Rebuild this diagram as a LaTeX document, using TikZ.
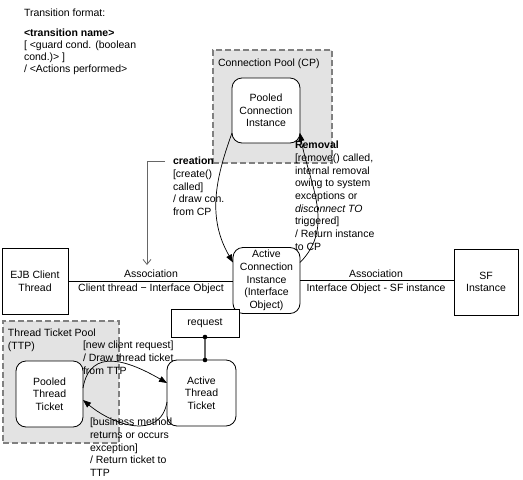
\documentclass[tikz,border=0pt]{standalone}
\usepackage{fontspec}
\setmainfont{Liberation Sans}
\usetikzlibrary{arrows.meta}
\begin{document}
\begin{tikzpicture}[x=1pt,y=-1pt,
  every node/.style={font=\fontsize{10.5}{12.7}\selectfont, inner sep=0pt, outer sep=0pt},
  state/.style={draw, rounded corners=10pt, fill=white, align=center, line width=0.8pt},
  box/.style={draw, fill=white, align=center, line width=0.8pt},
  pool/.style={draw=black!50, fill=black!11, dash pattern=on 6pt off 3pt, line width=1.4pt, anchor=north west},
  lbl/.style={align=left, anchor=north west},
  arr/.style={-{Triangle[length=8pt,width=6pt]}, line width=0.7pt},
  assoc/.style={line width=0.7pt},
]
\useasboundingbox (0,0) rectangle (523,480);

% pools
\node[pool, minimum width=119pt, minimum height=113pt] (cp) at (213,50) {};
\node[pool, minimum width=116pt, minimum height=122pt] (ttp) at (3,321) {};
\node[anchor=base west] (cplbl) at (218,66) {Connection Pool (CP)};
\node[lbl] (ttplbl) at (8,329) {Thread Ticket Pool\\(TTP)};

% transition format legend
\node[anchor=base west] (tf) at (24,16) {Transition format:};
\node[lbl, font=\fontsize{10.5}{11.8}\selectfont] (tfbody) at (24,29)
  {\textbf{<transition name>}\\{[} <guard cond. (boolean\\cond.)> {]}\\/ <Actions performed>};

% states and boxes
\node[state, minimum width=68pt, minimum height=65pt] (pci) at (266,110.5) {Pooled\\Connection\\Instance};
\node[state, minimum width=67pt, minimum height=66pt] (aci) at (266.5,280.5) {Active\\Connection\\Instance\\(Interface\\Object)};
\node[box, minimum width=66pt, minimum height=66pt] (ejb) at (35,281) {EJB Client\\Thread};
\node[box, minimum width=64pt, minimum height=66pt] (sf) at (486,282) {SF\\Instance};
\node[box, minimum width=68pt, minimum height=28pt] (req) at (205,323) {request};
\node[state, minimum width=69pt, minimum height=66pt] (att) at (201.5,393) {Active\\Thread\\Ticket};
\node[state, minimum width=67pt, minimum height=66pt] (ptt) at (49.5,394) {Pooled\\Thread\\Ticket};

% associations
\draw[assoc] (ejb.east) -- (ejb.east -| aci.west);
\draw[assoc] (aci.east) -- (aci.east -| sf.west);
\node[anchor=base] (a1) at (151,277) {Association};
\node[anchor=base] (a1b) at (151,291) {Client thread − Interface Object};
\node[anchor=base] (a2) at (376,277) {Association};
\node[anchor=base] (a2b) at (376,291) {Interface Object - SF instance};

% creation / removal
\draw[arr] ([yshift=10pt]pci.south west) to[out=250,in=120] ([yshift=-15pt]aci.north west);
\draw[arr] ([yshift=-15pt]aci.north east) to[out=45,in=-80] ([yshift=10pt]pci.south east);

\coordinate (cr1) at (165,161);
\coordinate (cr2) at (147,265);
\draw[black!60, line width=0.8pt, -{Straight Barb[length=5pt,width=8pt]}] (cr1) -| (cr2);

\node[lbl] (crlbl) at (173,157) {\textbf{creation}\\{[}create()\\called{]}\\/ draw con.\\from CP};
\node[lbl] (rmlbl) at (295,141) {\textbf{Removal}\\{[}remove() called,\\internal removal\\owing to system\\exceptions or\\\textit{disconnect TO}\\triggered{]}\\/ Return instance\\to CP};

% request connector
\draw[black!60, line width=1.6pt] (req.south) -- (req.south |- att.north);
\fill (req.south) circle (2.3pt);
\fill (req.south |- att.north) circle (2.3pt);

% thread ticket transitions
\draw[arr] ([yshift=6pt]ptt.east) to[out=80,in=150,looseness=1.3] ([yshift=10pt]att.west);
\draw[arr] ([yshift=-9pt]att.west) to[out=-100,in=-40,looseness=1.2] ([yshift=-6pt]ptt.east);

\node[lbl] (ntlbl) at (83,341) {{[}new client request{]}\\/ Draw thread ticket\\from TTP};
\node[lbl] (btlbl) at (90,418) {{[}business method\\returns or occurs\\exception{]}\\/ Return ticket to\\TTP};
\end{tikzpicture}
\end{document}
